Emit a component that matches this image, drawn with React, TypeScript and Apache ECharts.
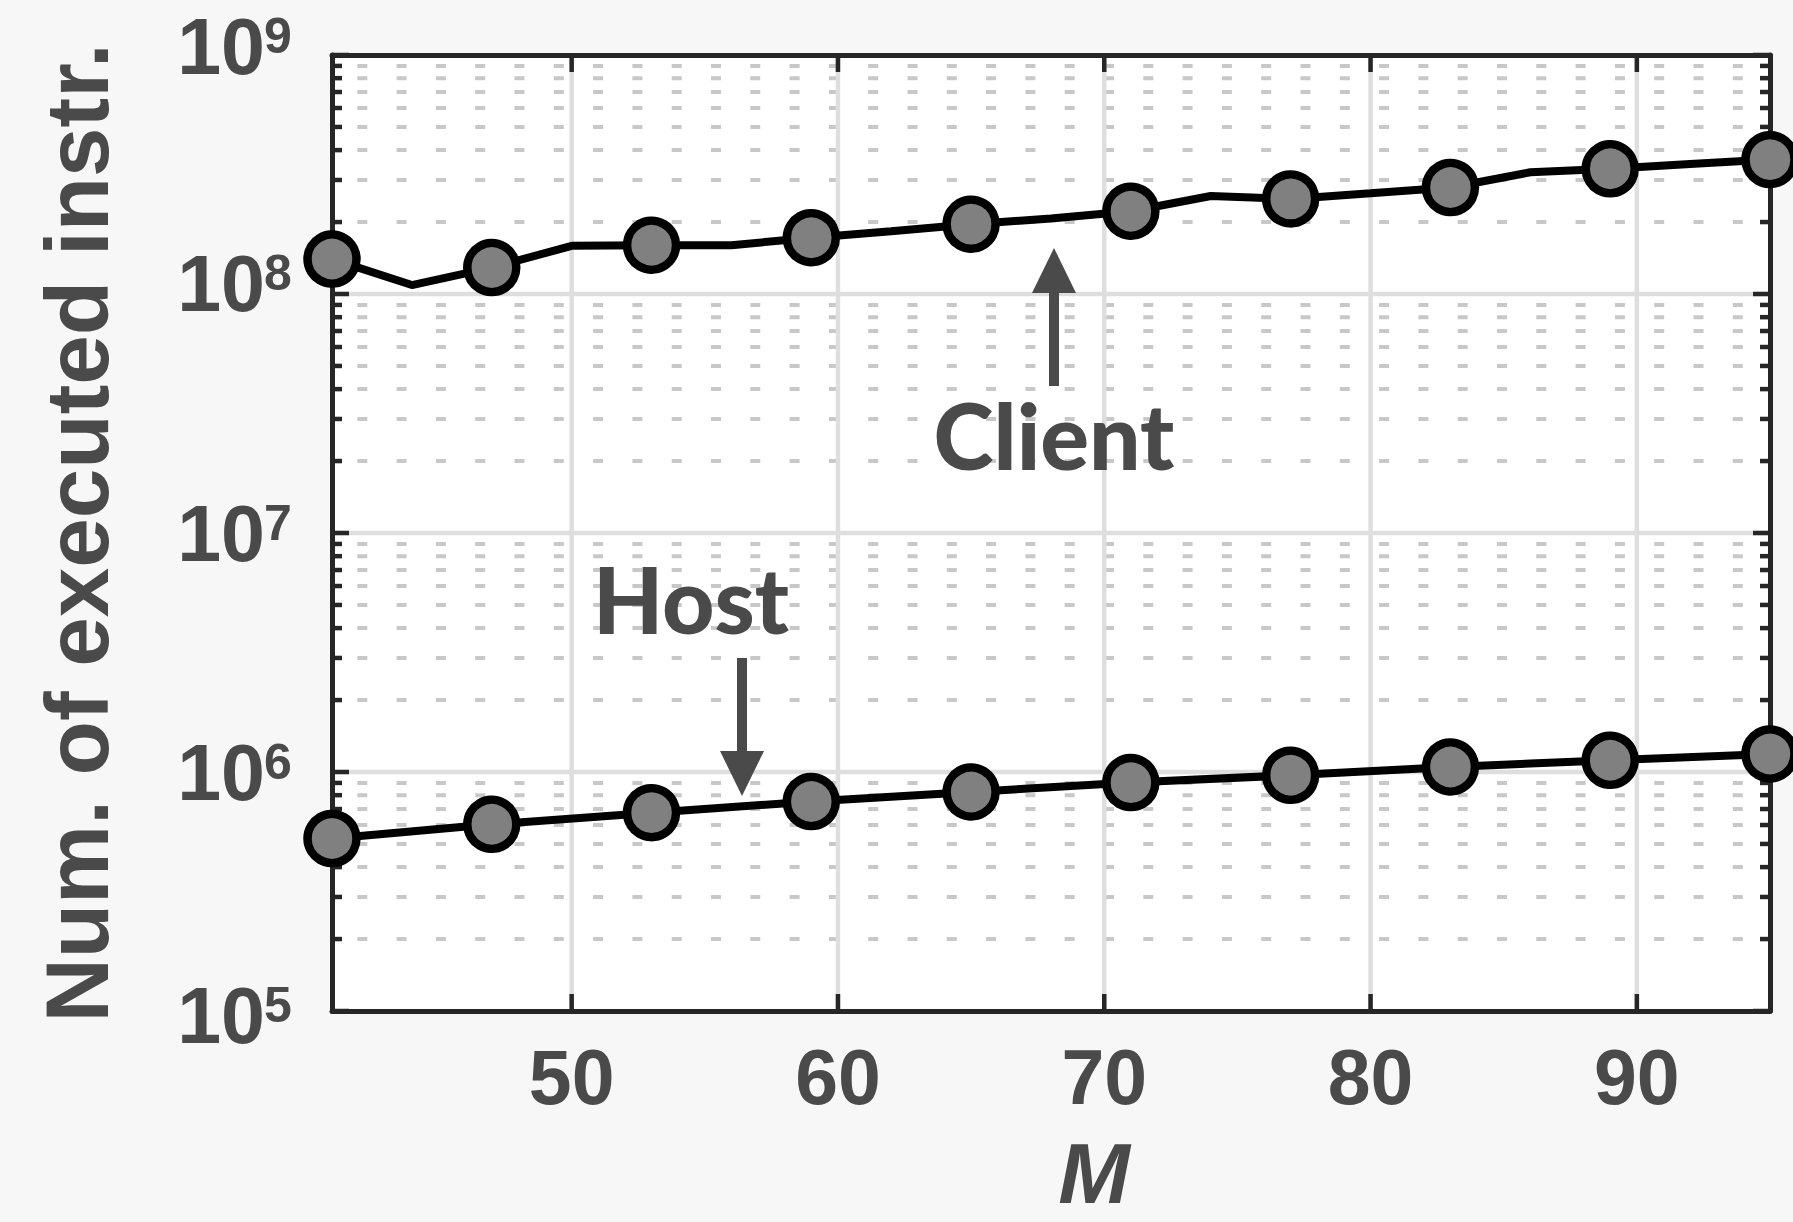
import React, { useEffect, useRef } from "react";
import * as echarts from "echarts";

// Instruction counts versus M
const clientM = [41, 44, 47, 50, 53, 56, 59, 62, 65, 68, 71, 74, 77, 80, 83, 86, 89, 92, 95];
const clientInstr = [
  1.4e8, 1.09e8, 1.29e8, 1.59e8, 1.6e8, 1.6e8, 1.72e8, 1.83e8, 1.96e8, 2.07e8,
  2.22e8, 2.57e8, 2.5e8, 2.64e8, 2.79e8, 3.23e8, 3.34e8, 3.5e8, 3.65e8,
];
const hostM = [41, 47, 53, 59, 65, 71, 77, 83, 89, 95];
const hostInstr = [5.27e5, 6.04e5, 6.76e5, 7.52e5, 8.25e5, 9.03e5, 9.69e5, 1.05e6, 1.12e6, 1.19e6];

const xTicks = [50, 60, 70, 80, 90];
const yTickExps = [5, 6, 7, 8, 9];
const minorMultipliers = [2, 3, 4, 5, 6, 7, 8, 9];

const X_MIN = 41;
const X_MAX = 95;

const TEXT = "#4a4a4a";
const AXIS = "#262626";
const SANS = '"Liberation Sans", Arial, sans-serif';

export default function App() {
  const ref = useRef<HTMLDivElement | null>(null);

  useEffect(() => {
    document.body.style.margin = "0";
    if (!ref.current) return;
    const chart = echarts.init(ref.current, null, { renderer: "svg" });

    const frameAxis = {
      axisLine: { show: true, onZero: false, lineStyle: { color: AXIS, width: 5 } },
      axisTick: { show: false },
      axisLabel: { show: false },
      splitLine: { show: false },
      z: 2,
    };

    const circleEvery = (i: number) => (i % 2 === 0 ? "circle" : "none");
    const markerStyle = { color: "#808080", borderColor: "#000000", borderWidth: 8.5 };

    chart.setOption({
      animation: false,
      backgroundColor: "#f7f7f7",
      grid: {
        left: 332,
        top: 55,
        width: 1438,
        height: 956,
        show: true,
        backgroundColor: "#ffffff",
        borderWidth: 0,
      },
      xAxis: [
        { type: "value", min: X_MIN, max: X_MAX, position: "bottom", ...frameAxis },
        { type: "value", min: X_MIN, max: X_MAX, position: "top", ...frameAxis },
      ],
      yAxis: [
        { type: "log", logBase: 10, min: 1e5, max: 1e9, position: "left", ...frameAxis },
        { type: "log", logBase: 10, min: 1e5, max: 1e9, position: "right", ...frameAxis },
      ],
      series: [
        {
          name: "Client",
          type: "line",
          z: 3,
          clip: false,
          data: clientM.map((m, i) => ({ value: [m, clientInstr[i]], symbol: circleEvery(i) })),
          symbolSize: 49,
          lineStyle: { color: "#000000", width: 8 },
          itemStyle: markerStyle,
          emphasis: { disabled: true },
        },
        {
          name: "Host",
          type: "line",
          z: 3,
          clip: false,
          data: hostM.map((m, i) => [m, hostInstr[i]]),
          symbol: "circle",
          symbolSize: 49,
          lineStyle: { color: "#000000", width: 8 },
          itemStyle: markerStyle,
          emphasis: { disabled: true },
        },
      ],
    });

    const px = (v: number) => chart.convertToPixel({ xAxisIndex: 0 }, v) as number;
    const py = (v: number) => chart.convertToPixel({ yAxisIndex: 0 }, v) as number;

    const left = px(X_MIN);
    const right = px(X_MAX);
    const top = py(1e9);
    const bottom = py(1e5);

    const g: any[] = [];
    const seg = (x1: number, y1: number, x2: number, y2: number, style: any, z = 1) =>
      g.push({ type: "line", silent: true, z, shape: { x1, y1, x2, y2 }, style });

    // minor dashed grid + minor ticks
    for (let e = 5; e < 9; e++) {
      for (const k of minorMultipliers) {
        const y = py(k * Math.pow(10, e));
        seg(left, y, right, y, { stroke: "#c8c8c8", lineWidth: 4, lineDash: [10, 29.3], lineDashOffset: 14.3 });
        seg(left, y, left + 10, y, { stroke: AXIS, lineWidth: 4.5 }, 2);
        seg(right, y, right - 10, y, { stroke: AXIS, lineWidth: 4.5 }, 2);
      }
    }
    // major horizontal grid + ticks
    yTickExps.forEach((e) => {
      const y = py(Math.pow(10, e));
      if (e > 5 && e < 9) seg(left, y, right, y, { stroke: "#dedede", lineWidth: 4.5 });
      seg(left, y, left + 17, y, { stroke: AXIS, lineWidth: 4.5 }, 2);
      seg(right, y, right - 17, y, { stroke: AXIS, lineWidth: 4.5 }, 2);
    });
    // vertical grid + ticks + labels
    xTicks.forEach((t) => {
      const x = px(t);
      seg(x, top, x, bottom, { stroke: "#dedede", lineWidth: 4.5 });
      seg(x, bottom, x, bottom - 17, { stroke: AXIS, lineWidth: 4.5 }, 2);
      seg(x, top, x, top + 17, { stroke: AXIS, lineWidth: 4.5 }, 2);
      g.push({
        type: "text",
        silent: true,
        z: 1,
        x,
        y: bottom + 66,
        style: {
          text: String(t),
          fill: TEXT,
          fontFamily: SANS,
          fontWeight: "bold",
          fontSize: 77,
          align: "center",
          verticalAlign: "middle",
        },
      });
    });

    // y tick labels as 10 with a raised exponent
    const nudge: Record<number, number> = { 5: 4, 6: 0, 7: 0, 8: -11, 9: -9 };
    yTickExps.forEach((e) => {
      const y = py(Math.pow(10, e)) + nudge[e];
      g.push({
        type: "text",
        silent: true,
        z: 1,
        x: left - 67,
        y,
        style: {
          text: "10",
          fill: TEXT,
          fontFamily: SANS,
          fontWeight: "bold",
          fontSize: 79,
          align: "right",
          verticalAlign: "middle",
        },
      });
      g.push({
        type: "text",
        silent: true,
        z: 1,
        x: left - 68,
        y: y - 10,
        style: {
          text: String(e),
          fill: TEXT,
          fontFamily: SANS,
          fontWeight: "bold",
          fontSize: 50,
          align: "left",
          verticalAlign: "middle",
        },
      });
    });

    // axis titles
    g.push({
      type: "text",
      silent: true,
      x: 77,
      y: 533,
      rotation: Math.PI / 2,
      style: {
        text: "Num. of executed instr.",
        fill: TEXT,
        fontFamily: SANS,
        fontWeight: "bold",
        fontSize: 89,
        align: "center",
        verticalAlign: "middle",
      },
    });
    g.push({
      type: "text",
      silent: true,
      x: (left + right) / 2 + 43,
      y: 1173,
      style: {
        text: "M",
        fill: TEXT,
        fontFamily: SANS,
        fontWeight: "bold",
        fontStyle: "italic",
        fontSize: 86,
        align: "center",
        verticalAlign: "middle",
      },
    });

    // annotations
    const label = (text: string, x: number, y: number) =>
      g.push({
        type: "text",
        silent: true,
        z: 4,
        x,
        y,
        style: {
          text,
          fill: TEXT,
          fontFamily: "Lato, sans-serif",
          fontWeight: 900,
          fontSize: 91,
          align: "center",
          verticalAlign: "middle",
        },
      });
    const arrow = (x: number, yTail: number, yTip: number) => {
      const dir = yTip < yTail ? -1 : 1;
      const headLen = 45;
      const yBase = yTip - dir * headLen;
      g.push({
        type: "rect",
        silent: true,
        z: 4,
        shape: { x: x - 5, y: Math.min(yTail, yBase), width: 10, height: Math.abs(yBase - yTail) },
        style: { fill: TEXT },
      });
      g.push({
        type: "polygon",
        silent: true,
        z: 4,
        shape: { points: [[x - 22, yBase], [x + 22, yBase], [x, yTip]] },
        style: { fill: TEXT },
      });
    };
    label("Client", 1054, 434);
    arrow(1054, 386, 248);
    label("Host", 691, 598);
    arrow(742, 658, 796);

    chart.setOption({ graphic: { elements: g } });

    return () => chart.dispose();
  }, []);

  return <div ref={ref} style={{ width: 1793, height: 1222 }} />;
}
